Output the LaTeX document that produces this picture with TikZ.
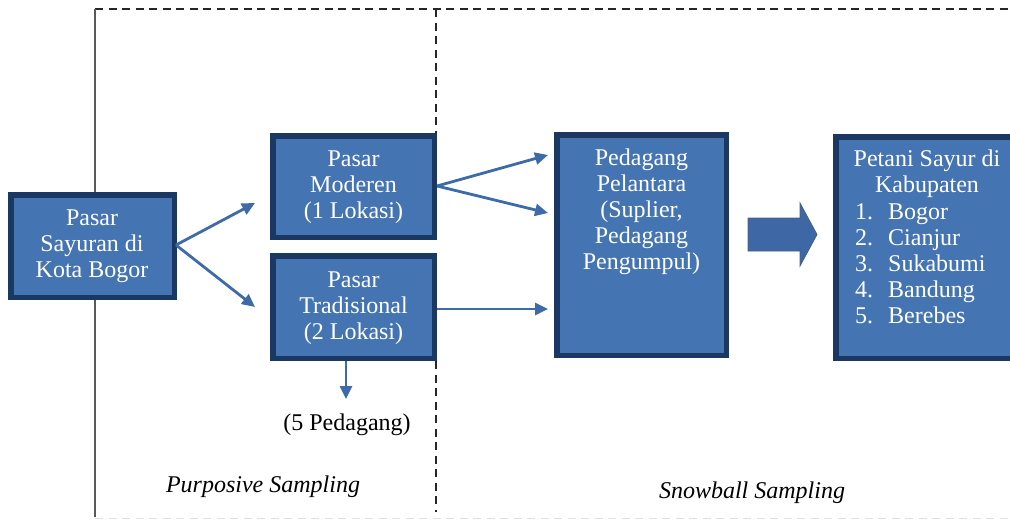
\documentclass[tikz,border=0pt]{standalone}
\usepackage{fontspec}
\setmainfont{Liberation Serif}
\usetikzlibrary{arrows.meta,shapes.arrows}
\definecolor{boxfill}{RGB}{69,116,178}
\definecolor{boxedge}{RGB}{27,56,98}
\definecolor{arrowblue}{RGB}{61,104,165}
\definecolor{linkblue}{RGB}{62,107,168}
\tikzset{
  x=1pt, y=-1pt,
  bluebox/.style={draw=boxedge, line width=5.5pt, fill=boxfill, text=white, inner sep=0pt},
  boxtext/.style={text=white, font=\fontsize{24}{25.8}\selectfont, align=center, inner sep=0pt},
  link/.style={draw=linkblue, line width=2.8pt, -{Triangle[length=13pt,width=12pt]}},
  frameline/.style={draw=black!85, line width=1.8pt, dash pattern=on 8pt off 5.5pt},
  plaintext/.style={font=\fontsize{24}{26}\selectfont, inner sep=0pt, anchor=base},
}
\begin{document}
\begin{tikzpicture}
\useasboundingbox (0,0) rectangle (1010,520);
\clip (0,0) rectangle (1010,520);
% frame
\coordinate (tl) at (95,9);
\coordinate (tr) at (1012,9);
\coordinate (bl) at (95,517);
\coordinate (br) at (1012,518);
\draw[frameline] (tl) -- (tr);
\draw[draw=black!65, line width=1.6pt] (tl) -- (bl);
\draw[draw=black!12, line width=1pt, dash pattern=on 8pt off 5.5pt] (95,518) -- (br);
\coordinate (d1) at (436,9);
\coordinate (d2) at (436,133);
\coordinate (d3) at (436,361);
\coordinate (d4) at (436,512);
\draw[frameline] (d1) -- (d2);
\draw[frameline] (d3) -- (d4);
% boxes
\path[bluebox] (10.75,194.75) rectangle (174.25,297.25);
\node[boxtext] (pasar) at (92,246) {Pasar\\Sayuran di\\Kota Bogor};
\path[bluebox] (272.75,135.75) rectangle (434.25,237.25);
\node[boxtext] (moderen) at (353.5,187) {Pasar\\Moderen\\(1 Lokasi)};
\path[bluebox] (272.75,255.75) rectangle (434.25,358.25);
\node[boxtext] (trad) at (353.5,308) {Pasar\\Tradisional\\(2 Lokasi)};
\path[bluebox] (556.75,134.75) rectangle (726.25,355.25);
\node[boxtext, anchor=north] (pedagang) at (641.5,149) {Pedagang\\Pelantara\\(Suplier,\\Pedagang\\Pengumpul)};
\path[bluebox] (835.75,136.75) rectangle (1025,358.25);
\node[boxtext, anchor=north] (petani) at (927,150) {Petani Sayur di\\Kabupaten};
\node[boxtext, anchor=base west] (n1) at (855,219) {1.};
\node[boxtext, anchor=base west] (l1) at (888,219) {Bogor};
\node[boxtext, anchor=base west] (n2) at (855,245) {2.};
\node[boxtext, anchor=base west] (l2) at (888,245) {Cianjur};
\node[boxtext, anchor=base west] (n3) at (855,271) {3.};
\node[boxtext, anchor=base west] (l3) at (888,271) {Sukabumi};
\node[boxtext, anchor=base west] (n4) at (855,297) {4.};
\node[boxtext, anchor=base west] (l4) at (888,297) {Bandung};
\node[boxtext, anchor=base west] (n5) at (855,323) {5.};
\node[boxtext, anchor=base west] (l5) at (888,323) {Berebes};
% connectors
\coordinate (p1) at (176,245);
\coordinate (m1) at (255,203);
\coordinate (t1) at (255,307);
\draw[link] (p1) -- (m1);
\draw[link] (p1) -- (t1);
\coordinate (m2) at (437,186);
\coordinate (e1) at (548,155);
\coordinate (e2) at (548,213);
\draw[link] (m2) -- (e1);
\draw[link] (m2) -- (e2);
\coordinate (t2) at (437,309);
\coordinate (e3) at (548,309);
\draw[link] (t2) -- (e3);
\coordinate (t3) at (346,361);
\coordinate (t4) at (346,399);
\draw[link] (t3) -- (t4);
% block arrow
\path[fill=arrowblue, draw=boxedge!80, line width=0.8pt]
  (748,218) -- (800,218) -- (800,203) -- (817,234.5) -- (800,266) -- (800,251) -- (748,251) -- cycle;
% labels
\node[plaintext] (five) at (347,430) {(5 Pedagang)};
\node[plaintext, font=\fontsize{24}{26}\selectfont\itshape] (purp) at (263,492) {Purposive Sampling};
\node[plaintext, font=\fontsize{24}{26}\selectfont\itshape] (snow) at (752,498) {Snowball Sampling};
\end{tikzpicture}
\end{document}
